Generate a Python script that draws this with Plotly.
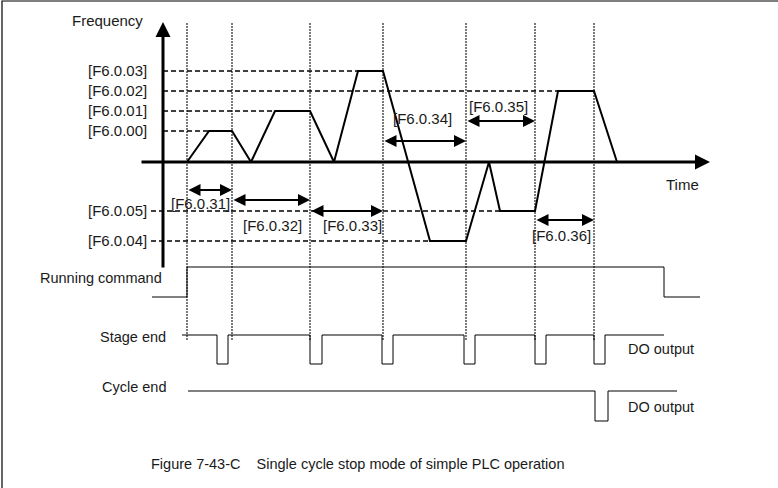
import plotly.graph_objects as go

# values (diagram units = pixels of the original)
W, H = 778, 488

# frequency levels (y) and their labels
level_names = ["[F6.0.03]", "[F6.0.02]", "[F6.0.01]", "[F6.0.00]", "[F6.0.05]", "[F6.0.04]"]
level_y = [71, 91, 111, 131, 211, 241]
level_dash_from = [163, 163, 163, 163, 151, 151]
level_dash_to = [358, 558, 275, 209, 500, 440]

# stage boundaries (time)
stage_t = [187, 232, 310, 383, 466, 535, 594]

# frequency curve
freq_t = [187, 209, 232, 251, 275, 310, 334, 358, 383, 430, 466, 489, 500, 535, 558, 594, 617]
freq_f = [162, 131, 131, 162, 111, 111, 162, 71, 71, 241, 241, 162, 211, 211, 91, 91, 162]

# running times
run_names = ["[F6.0.31]", "[F6.0.32]", "[F6.0.33]", "[F6.0.34]", "[F6.0.35]", "[F6.0.36]"]
run_t0 = [187, 232, 310, 383, 466, 535]
run_t1 = [232, 310, 383, 466, 535, 594]
run_y = [190, 200, 211, 141, 121, 220]
run_lbl_x = [200, 272, 352, 422, 498, 561]
run_lbl_y = [203, 225, 225, 118, 106, 235]

# digital signals
cmd_t = [152, 187, 187, 664, 664, 700]
cmd_v = [297, 297, 267, 267, 297, 297]

stage_pulse_t0 = [217, 310, 382, 464, 535, 594]
stage_pulse_t1 = [228, 322, 393, 475, 546, 605]
stage_hi, stage_lo = 335, 364

cycle_t = [188, 595, 595, 608, 608, 677]
cycle_v = [391, 391, 421, 421, 391, 391]

FONT = "Liberation Sans, Arial, sans-serif"
fig = go.Figure()


def line(xs, ys, width=1, dash="solid", color="black"):
    fig.add_trace(go.Scatter(x=xs, y=ys, mode="lines", hoverinfo="skip",
                             line=dict(color=color, width=width, dash=dash)))


# frame (left and top)
line([2, 2, W], [H, 1, 1], width=1.2)

# stage boundary lines
for t in stage_t:
    line([t, t], [23, 340], width=1.2, dash="2px,1px", color="#222")

# level dashed lines
for y, a, b in zip(level_y, level_dash_from, level_dash_to):
    line([a, b], [y, y], width=1.5, dash="5px,3px")

# frequency curve
line(freq_t, freq_f, width=2)

# running command
line(cmd_t, cmd_v, width=1)

# stage end
st_x, st_y = [182], [stage_hi]
for a, b in zip(stage_pulse_t0, stage_pulse_t1):
    st_x += [a, a, b, b]
    st_y += [stage_hi, stage_lo, stage_lo, stage_hi]
st_x.append(664)
st_y.append(stage_hi)
line(st_x, st_y, width=1)

# cycle end
line(cycle_t, cycle_v, width=1)

ann = []
# axes with arrows
ann.append(dict(x=163, y=22, ax=163, ay=269, axref="x", ayref="y", xref="x", yref="y",
                text="", showarrow=True, arrowhead=2, arrowsize=1, arrowwidth=3, arrowcolor="black"))
ann.append(dict(x=710, y=162, ax=140, ay=162, axref="x", ayref="y", xref="x", yref="y",
                text="", showarrow=True, arrowhead=2, arrowsize=1, arrowwidth=3, arrowcolor="black"))

# running time arrows
for a, b, y in zip(run_t0, run_t1, run_y):
    ann.append(dict(x=b, y=y, ax=a, ay=y, axref="x", ayref="y", xref="x", yref="y",
                    text="", showarrow=True, arrowhead=2, arrowsize=1.2, arrowwidth=2,
                    arrowside="end+start", arrowcolor="black", standoff=0, startstandoff=0))


def label(x, y, txt, anchor="center", size=15):
    ann.append(dict(x=x, y=y, xref="x", yref="y", text=txt, showarrow=False,
                    xanchor=anchor, yanchor="middle",
                    font=dict(family=FONT, size=size, color="#1a1a1a")))


for n, y in zip(level_names, level_y):
    label(149, y - 1, n, "right")
for n, x, y in zip(run_names, run_lbl_x, run_lbl_y):
    label(x, y, n)

label(107, 20, "Frequency")
label(682, 184, "Time")
label(164, 278, "Running command", "right", 14.5)
label(168, 337, "Stage end", "right", 14.5)
label(661, 349, "DO output", size=14.5)
label(168, 387, "Cycle end", "right", 14.5)
label(661, 407, "DO output", size=14.5)
label(357, 464, "Figure 7-43-C&nbsp;&nbsp;&nbsp;&nbsp;Single cycle stop mode of simple PLC operation", size=14.5)

fig.update_layout(
    width=W, height=H,
    margin=dict(l=0, r=0, t=0, b=0),
    paper_bgcolor="white", plot_bgcolor="white",
    showlegend=False,
    annotations=ann,
    xaxis=dict(range=[0, W], visible=False, fixedrange=True),
    yaxis=dict(range=[H, 0], visible=False, fixedrange=True),
)

fig.write_html("out.html", config={"displayModeBar": False},
               post_script="document.body.style.margin='0px';")
